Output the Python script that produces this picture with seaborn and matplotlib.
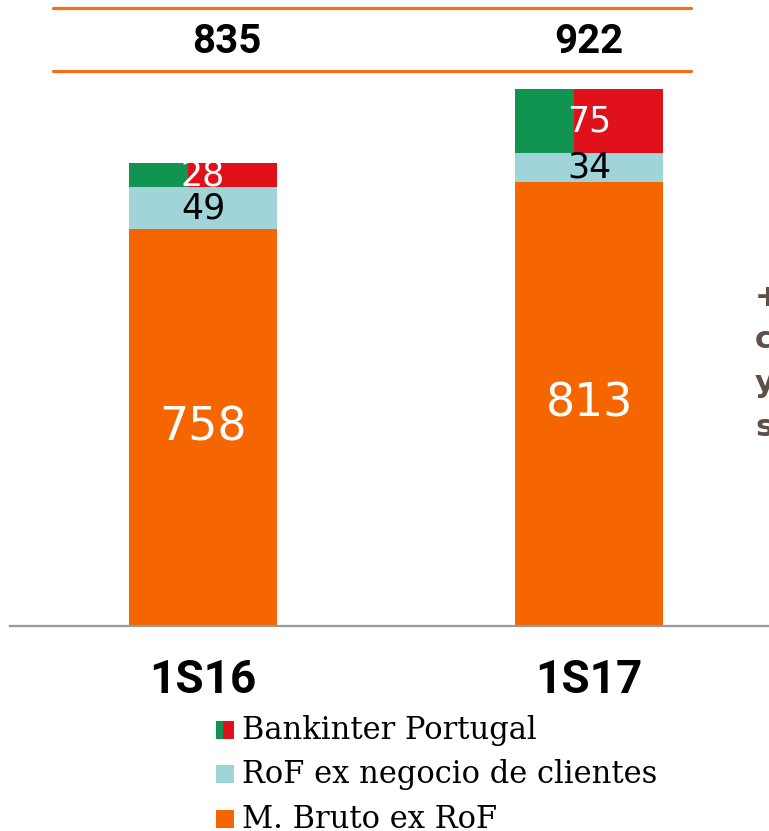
import matplotlib
matplotlib.use("Agg")
import matplotlib.pyplot as plt
from matplotlib.patches import Rectangle
from matplotlib.lines import Line2D
import matplotlib.transforms as mtrans
import seaborn as sns
import pandas as pd
import numpy as np

# ---- data ----
periods = ["1S16", "1S17"]
margen_bruto = [758, 813]          # M. Bruto ex RoF
rof_clientes = [49, 34]            # RoF ex negocio de clientes
bk_portugal = [28, 75]             # Bankinter Portugal
totals = [835, 922]
legend_labels = ["Bankinter Portugal", "RoF ex negocio de clientes", "M. Bruto ex RoF"]
side_text = ["+", "c", "y", "s"]

ORANGE = "#F56600"
LBLUE = "#A0D4D9"
GREEN = "#109450"
RED = "#E0111B"
LINE_OR = "#F57014"
SIDE_COL = "#5E5048"

sns.set_theme(style="white")
plt.rcParams["font.family"] = ["DejaVu Sans"]

W, H = 769, 831
fig = plt.figure(figsize=(W / 100, H / 100), dpi=100)
ax = fig.add_axes([10 / W, 1 - 626 / H, 1 - 10 / W, 626 / H])

df = pd.DataFrame({
    "period": periods,
    "orange": margen_bruto,
    "blue": rof_clientes,
    "bk": bk_portugal,
})
df["cum_blue"] = df["orange"] + df["blue"]
df["cum_bk"] = df["cum_blue"] + df["bk"]

bw = 0.383
sns.barplot(data=df, x="period", y="cum_bk", color=RED, saturation=1,
            width=bw, errorbar=None, ax=ax, linewidth=0)
xpos = np.arange(len(periods))
ax.bar(xpos - bw / 2, df["cum_bk"], width=bw * 0.4, align="edge", color=GREEN, linewidth=0)
sns.barplot(data=df, x="period", y="cum_blue", color=LBLUE, saturation=1,
            width=bw, errorbar=None, ax=ax, linewidth=0)
sns.barplot(data=df, x="period", y="orange", color=ORANGE, saturation=1,
            width=bw, errorbar=None, ax=ax, linewidth=0)

# truncated value axis, as in the reference
y0 = 294
ax.set_xlim(-0.5, 1.466)
ax.set_ylim(y0, y0 + 626 / 0.855)
ax.set_xlabel("")
ax.set_ylabel("")
ax.set_yticks([])
ax.set_xticks([])
for s in ["top", "right", "left"]:
    ax.spines[s].set_visible(False)
ax.spines["bottom"].set_color("#999999")
ax.spines["bottom"].set_linewidth(1.6)

# segment labels
for i in range(len(periods)):
    o, b, k = margen_bruto[i], rof_clientes[i], bk_portugal[i]
    ax.text(i, (y0 + o) / 2, str(o), ha="center", va="center", color="white",
            fontsize=33, fontfamily="DejaVu Sans")
    ax.text(i, o + b / 2, str(b), ha="center", va="center", color="black",
            fontsize=25, fontfamily="DejaVu Sans")
    ax.text(i, o + b + k / 2, str(k), ha="center", va="center", color="white",
            fontsize=25, fontfamily="DejaVu Sans")

# category labels
blend = mtrans.blended_transform_factory(ax.transData, fig.transFigure)
for i, p in enumerate(periods):
    ax.text(i, 1 - 680 / H, p, transform=blend, ha="center", va="center",
            fontsize=33, fontweight="bold", fontfamily="Roboto", color="black")

# totals band
for yy in [8, 71]:
    fig.add_artist(Line2D([53 / W, 691 / W], [1 - yy / H, 1 - yy / H],
                          color=LINE_OR, linewidth=2.3, transform=fig.transFigure))
offsets = [0.062, 0.0]
for i, t in enumerate(totals):
    ax.text(i + offsets[i], 1 - 42 / H, str(t), transform=blend, ha="center",
            va="center", fontsize=29, fontweight="bold", fontfamily="Roboto",
            color="black")

# side text (cut off at the right edge, as in the reference)
for s, yy in zip(side_text, [297, 340, 383, 428]):
    fig.text(755 / W, 1 - yy / H, s, ha="left", va="center", fontsize=22,
             fontweight="bold", color=SIDE_COL)

# legend
sq = 18
rows = [730, 774, 819]
for j, (lab, yy) in enumerate(zip(legend_labels, rows)):
    x0, yt = 216, yy - sq / 2
    if j == 0:
        fig.add_artist(Rectangle((x0 / W, 1 - (yt + sq) / H), sq * 0.37 / W, sq / H,
                                 transform=fig.transFigure, color=GREEN, lw=0))
        fig.add_artist(Rectangle(((x0 + sq * 0.37) / W, 1 - (yt + sq) / H), sq * 0.63 / W, sq / H,
                                 transform=fig.transFigure, color=RED, lw=0))
    else:
        col = LBLUE if j == 1 else ORANGE
        fig.add_artist(Rectangle((x0 / W, 1 - (yt + sq) / H), sq / W, sq / H,
                                 transform=fig.transFigure, color=col, lw=0))
    fig.text(242 / W, 1 - yy / H, lab, ha="left", va="center", fontsize=22,
             fontfamily="DejaVu Serif", color="black")

fig.savefig("out.png", dpi=100)
